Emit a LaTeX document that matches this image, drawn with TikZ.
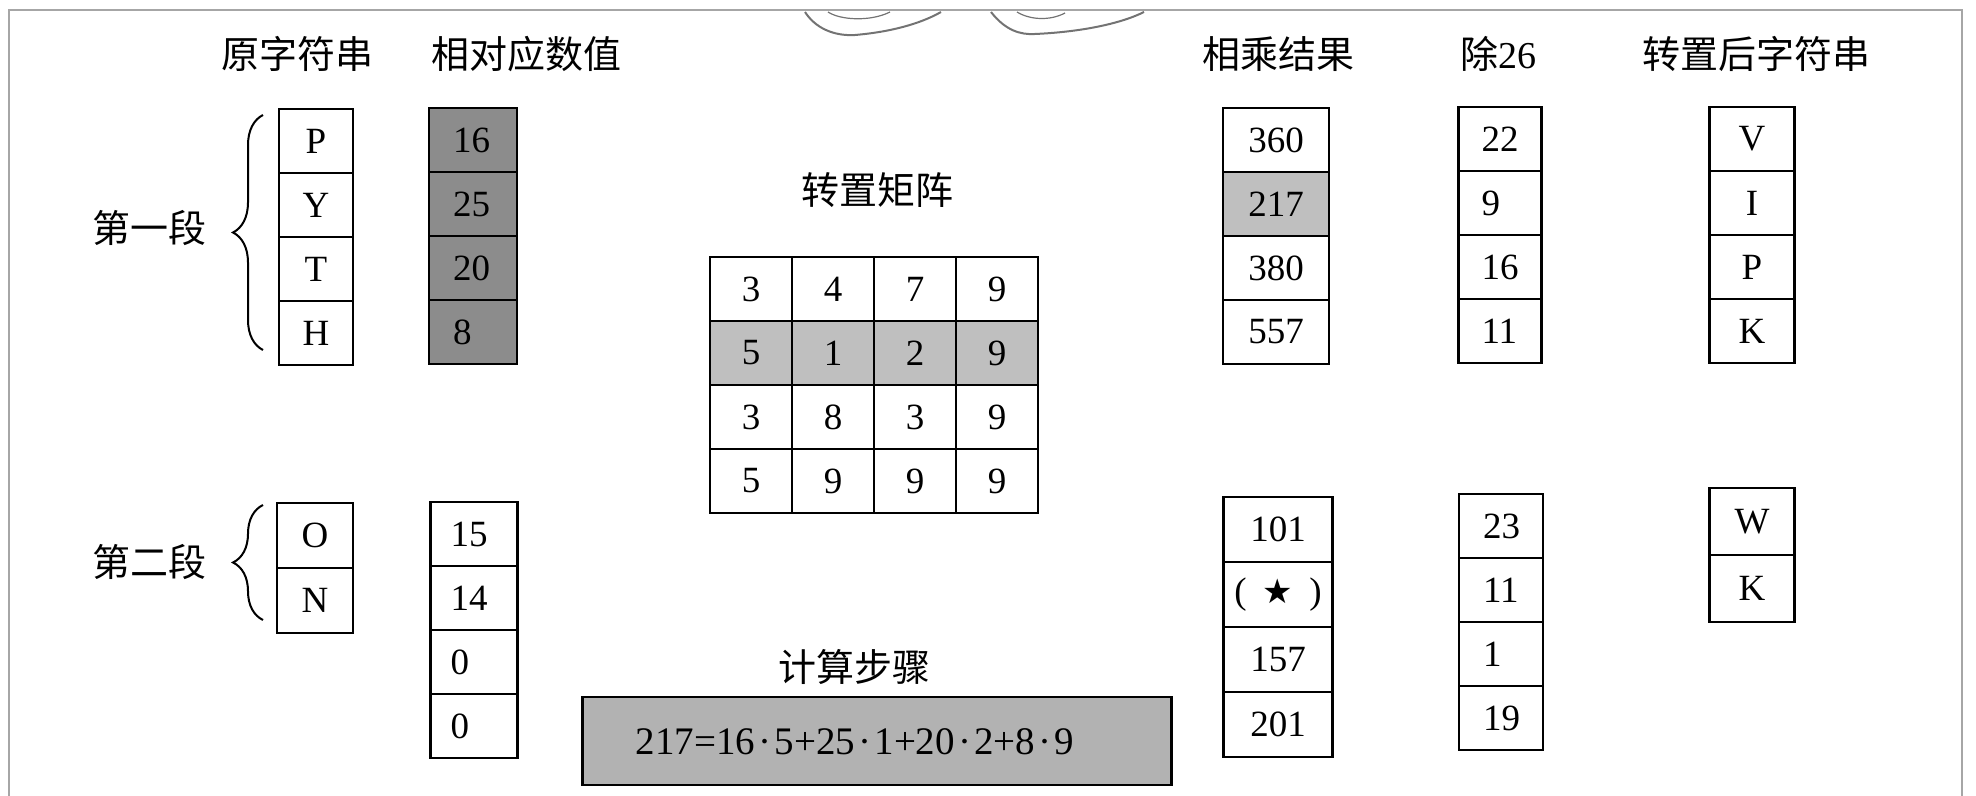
\documentclass[tikz,border=0pt]{standalone}
\usepackage{fontspec}
\setmainfont{Liberation Serif}
\newfontfamily\cjk{Noto Sans CJK SC}
\newfontfamily\symf{DejaVu Sans}
\usetikzlibrary{decorations.pathreplacing}
\newcommand{\mdot}{\kern1.6pt·\kern1.6pt}
\begin{document}
\begin{tikzpicture}[x=0.5pt,y=-0.5pt,
  cell/.style={draw=black, line width=1.1pt, inner sep=0pt, font=\fontsize{18.5pt}{20pt}\selectfont},
  colA/.style={cell, minimum width=37pt, minimum height=32pt},
  colA2/.style={cell, minimum width=38pt, minimum height=32.5pt},
  colB/.style={cell, minimum width=44pt, minimum height=32pt, text width=20pt, align=left, inner xsep=12pt},
  colB2/.style={cell, minimum width=43.5pt, minimum height=32pt, text width=23.5pt, align=left, inner xsep=10pt},
  mcell/.style={cell, minimum width=41pt, minimum height=32pt},
  colR/.style={cell, minimum width=53pt, minimum height=32pt},
  colR2/.style={cell, minimum width=54.5pt, minimum height=32.5pt},
  colD/.style={cell, minimum width=41.5pt, minimum height=32pt, text width=18.5pt, align=left, inner xsep=11.5pt},
  colD2/.style={cell, minimum width=42pt, minimum height=32pt, text width=18pt, align=left, inner xsep=12pt},
  colT/.style={cell, minimum width=42.5pt, minimum height=32pt},
  colT2/.style={cell, minimum width=42.5pt, minimum height=33.5pt},
  darkshade/.style={fill=black!45},
  lightshade/.style={fill=black!25},
  hdr/.style={inner sep=0pt, font=\cjk\fontsize{19pt}{21pt}\selectfont},
  bracestyle/.style={draw=black, line width=1pt, decorate, decoration={brace, amplitude=15pt}},
  swirl/.style={draw=black!55, line width=1pt},
  frame/.style={draw=black!35, line width=0.8pt}
]
\useasboundingbox (0,0) rectangle (1976,796);
% frame
\draw[frame] (9,796) -- (9,10) -- (1962,10) -- (1962,796);
% top decoration (cut off)
\draw[swirl] (805,12) .. controls (818,32) and (840,36) .. (855,35) .. controls (890,32) and (920,24) .. (941,12);
\draw[swirl, line width=0.6pt] (828,12) .. controls (840,20) and (870,22) .. (890,12);
\draw[swirl] (991,12) .. controls (1005,30) and (1020,35) .. (1035,34) .. controls (1080,32) and (1120,24) .. (1144,12);
\draw[swirl, line width=0.6pt] (1017,12) .. controls (1030,20) and (1050,21) .. (1065,13);

% headers
\node[hdr] (h1) at (297,54) {原字符串};
\node[hdr] (h2) at (526,54) {相对应数值};
\node[hdr] (h3) at (1278,54) {相乘结果};
\node[hdr] (h4) at (1498,54) {除\rmfamily 26};
\node[hdr] (h5) at (1756,54) {转置后字符串};
\node[hdr] (h6) at (877,190) {转置矩阵};
\node[hdr] (h7) at (854,667) {计算步骤};
\node[hdr] (s1) at (149,228) {第一段};
\node[hdr] (s2) at (149,562) {第二段};

% first segment
\node[colA] (a1) at (316,141) {P};
\node[colA] (a2) at (316,205) {Y};
\node[colA] (a3) at (316,269) {T};
\node[colA] (a4) at (316,333) {H};
\node[colB, darkshade] (b1) at (473,140) {16};
\node[colB, darkshade] (b2) at (473,204) {25};
\node[colB, darkshade] (b3) at (473,268) {20};
\node[colB, darkshade] (b4) at (473,332) {8};

% second segment
\node[colA2] (a5) at (315,535.5) {O};
\node[colA2] (a6) at (315,600.5) {N};
\node[colB2] (b5) at (474,534) {15};
\node[colB2] (b6) at (474,598) {14};
\node[colB2] (b7) at (474,662) {0};
\node[colB2] (b8) at (474,726) {0};

% braces
\coordinate (br1s) at (263,350);
\coordinate (br1e) at (263,115);
\coordinate (br2s) at (263,620);
\coordinate (br2e) at (263,505);
\draw[bracestyle] (br1s) -- (br1e);
\draw[bracestyle] (br2s) -- (br2e);

% matrix
\node[mcell] (m11) at (751,289) {3};
\node[mcell] (m12) at (833,289) {4};
\node[mcell] (m13) at (915,289) {7};
\node[mcell] (m14) at (997,289) {9};
\node[mcell, lightshade] (m21) at (751,353) {5};
\node[mcell, lightshade] (m22) at (833,353) {1};
\node[mcell, lightshade] (m23) at (915,353) {2};
\node[mcell, lightshade] (m24) at (997,353) {9};
\node[mcell] (m31) at (751,417) {3};
\node[mcell] (m32) at (833,417) {8};
\node[mcell] (m33) at (915,417) {3};
\node[mcell] (m34) at (997,417) {9};
\node[mcell] (m41) at (751,481) {5};
\node[mcell] (m42) at (833,481) {9};
\node[mcell] (m43) at (915,481) {9};
\node[mcell] (m44) at (997,481) {9};

% products
\node[colR] (r1) at (1276,140) {360};
\node[colR, lightshade] (r2) at (1276,204) {217};
\node[colR] (r3) at (1276,268) {380};
\node[colR] (r4) at (1276,332) {557};
\node[colR2] (r5) at (1278,529.5) {101};
\node[colR2] (r6) at (1278,594.5) {(\hspace{8pt}{\symf\fontsize{17pt}{17pt}\selectfont ★}\hspace{8pt})};
\node[colR2] (r7) at (1278,659.5) {157};
\node[colR2] (r8) at (1278,724.5) {201};

% mod 26
\node[colD] (d1) at (1500,139) {22};
\node[colD] (d2) at (1500,203) {9};
\node[colD] (d3) at (1500,267) {16};
\node[colD] (d4) at (1500,331) {11};
\node[colD2] (d5) at (1501,526) {23};
\node[colD2] (d6) at (1501,590) {11};
\node[colD2] (d7) at (1501,654) {1};
\node[colD2] (d8) at (1501,718) {19};

% transposed strings
\node[colT] (t1) at (1752,139) {V};
\node[colT] (t2) at (1752,203) {I};
\node[colT] (t3) at (1752,267) {P};
\node[colT] (t4) at (1752,331) {K};
\node[colT2] (t5) at (1752,521.5) {W};
\node[colT2] (t6) at (1752,588.5) {K};

% calculation box
\node[cell, fill=black!30, minimum width=294.5pt, minimum height=44pt] (calc) at (877,741) {};
\node[inner sep=0pt, font=\fontsize{19.5pt}{21pt}\selectfont] (formula) at (855,742) {217=16\mdot 5+25\mdot 1+20\mdot 2+8\mdot 9};
\end{tikzpicture}
\end{document}
